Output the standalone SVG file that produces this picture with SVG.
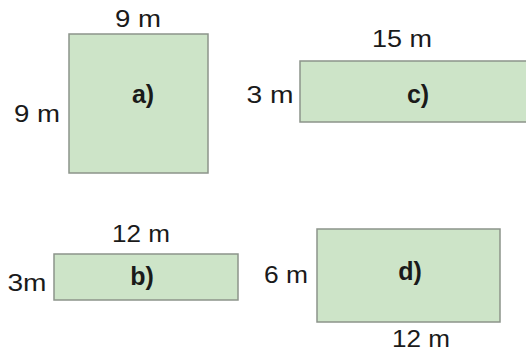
<svg xmlns="http://www.w3.org/2000/svg" width="526" height="354" viewBox="0 0 526 354">
<style>
.box{fill:#cde4c8;stroke:#8c948a;stroke-width:1.5}
.dim{font-family:"Liberation Sans",Arial,sans-serif;font-size:24px;fill:#1a1a1a;text-anchor:middle}
.lab{font-family:"Liberation Sans",Arial,sans-serif;font-size:25px;font-weight:bold;fill:#1a1a1a;text-anchor:middle}
</style>
<rect width="526" height="354" fill="#ffffff"/>
<g id="node-a">
<rect class="box" x="69" y="34" width="139" height="139"/>
<text class="lab" x="143" y="103">a)</text>
<text class="dim" x="138" y="27" textLength="46" lengthAdjust="spacingAndGlyphs">9 m</text>
<text class="dim" x="37" y="122" textLength="46" lengthAdjust="spacingAndGlyphs">9 m</text>
</g>
<g id="node-c">
<rect class="box" x="300" y="61" width="232" height="61"/>
<text class="lab" x="418" y="103">c)</text>
<text class="dim" x="402" y="47" textLength="60" lengthAdjust="spacingAndGlyphs">15 m</text>
<text class="dim" x="270" y="103" textLength="47" lengthAdjust="spacingAndGlyphs">3 m</text>
</g>
<g id="node-b">
<rect class="box" x="54" y="254" width="184" height="46"/>
<text class="lab" x="142" y="285">b)</text>
<text class="dim" x="141" y="242" textLength="58" lengthAdjust="spacingAndGlyphs">12 m</text>
<text class="dim" x="27" y="291" textLength="39" lengthAdjust="spacingAndGlyphs">3m</text>
</g>
<g id="node-d">
<rect class="box" x="317" y="229" width="183" height="93"/>
<text class="lab" x="410" y="280">d)</text>
<text class="dim" x="286" y="283" textLength="44" lengthAdjust="spacingAndGlyphs">6 m</text>
<text class="dim" x="421" y="347" textLength="58" lengthAdjust="spacingAndGlyphs">12 m</text>
</g>
<g id="connectors"></g>
</svg>
